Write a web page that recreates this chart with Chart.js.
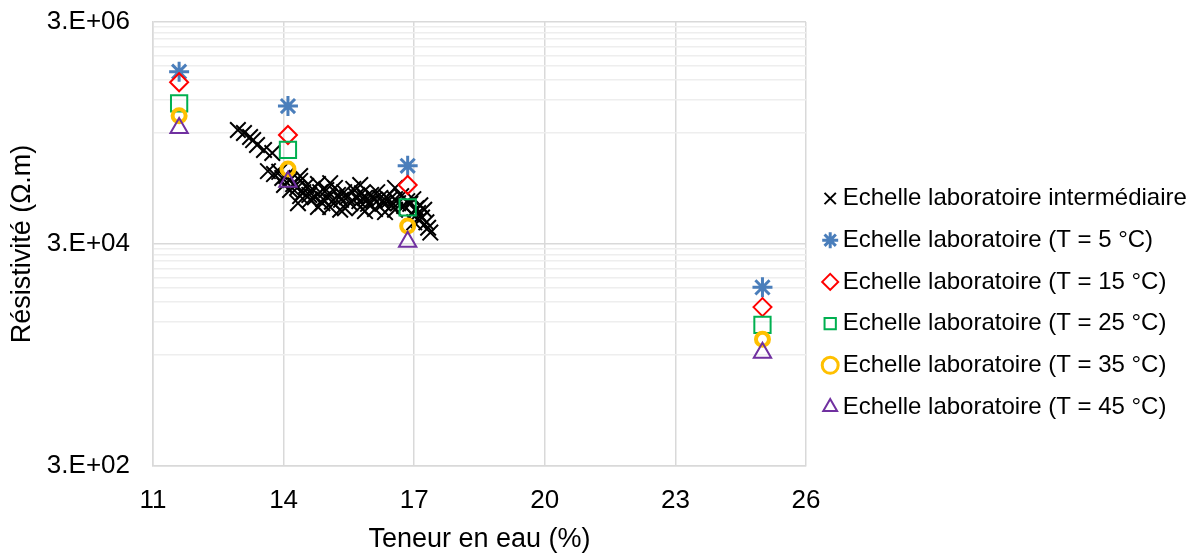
<!DOCTYPE html>
<html>
<head>
<meta charset="utf-8">
<script src="https://cdn.jsdelivr.net/npm/chart.js@4/dist/chart.umd.min.js"></script>
<style>
	html, body { margin: 0; padding: 0; background: #fff; }
	#chart { display: block; }
</style>
</head>
<body>
<canvas id="chart" width="1195" height="556"></canvas>
<script>
// Echelle laboratoire intermédiaire (teneur en eau %, résistivité ohm.m)
const interX = [
	12.95, 13.09, 13.23, 13.30, 13.39, 13.55, 13.74, 13.64, 13.78, 13.90,
	13.97, 14.06, 14.15, 14.01, 14.22, 14.31, 14.38, 14.45, 14.52, 14.59,
	14.66, 14.72, 14.79, 14.84, 14.91, 14.98, 15.05, 15.11, 15.18, 15.25,
	15.32, 15.39, 15.46, 15.53, 15.60, 15.67, 15.74, 15.80, 15.87, 15.94,
	16.01, 16.08, 16.15, 16.22, 16.29, 16.36, 16.43, 16.49, 16.56, 16.63,
	16.70, 16.77, 16.84, 16.91, 16.98, 17.05, 17.09, 17.14, 17.18, 17.23,
	17.28, 17.32, 17.37, 17.11, 15.07, 15.41, 15.76, 16.10, 16.56, 14.61,
	14.38, 14.15, 14.89, 14.33, 14.79, 15.30, 15.87, 16.33, 14.38, 15.07,
	15.76, 16.56, 16.95, 17.00,
];
const interY = [
	319000, 300000, 276000, 259000, 234000, 211000, 198000, 136000, 128000, 134000,
	118000, 123000, 113000, 102000, 104000, 96000, 111000, 88000, 100000, 83000,
	94000, 79000, 104000, 88000, 76000, 92000, 81000, 72000, 96000, 83000,
	75000, 88000, 79000, 70000, 94000, 81000, 73000, 86000, 78000, 69000,
	83000, 75000, 88000, 78000, 70000, 79000, 75000, 67000, 76000, 70000,
	81000, 66000, 73000, 69000, 76000, 63000, 57000, 67000, 52000, 61000,
	47000, 42000, 38000, 49000, 64500, 63000, 64500, 62000, 61000, 75000,
	81000, 92000, 70000, 70000, 64600, 61000, 59400, 58200, 123000, 106000,
	102000, 96000, 55800, 47000,
];

// Echelle laboratoire, une valeur par teneur en eau
const labX = [11.6, 14.1, 16.85, 25.0];
const labT5 = [1070000, 525000, 152000, 12200];
const labT15 = [860000, 288000, 102000, 8100];
const labT25 = [556000, 211000, 64000, 5600];
const labT35 = [430000, 142000, 43600, 4150];
const labT45 = [333000, 109000, 31500, 3150];

const seriesNames = [
	'Echelle laboratoire intermédiaire',
	'Echelle laboratoire (T = 5 °C)',
	'Echelle laboratoire (T = 15 °C)',
	'Echelle laboratoire (T = 25 °C)',
	'Echelle laboratoire (T = 35 °C)',
	'Echelle laboratoire (T = 45 °C)',
];

const xTicks = [11, 14, 17, 20, 23, 26];
const yMajorTicks = [300, 30000, 3000000];
const yMajorLabels = ['3.E+02', '3.E+04', '3.E+06'];
const yMinorTicks = [
	3000, 6000, 9000, 12000, 15000, 18000, 21000, 24000, 27000,
	300000, 600000, 900000, 1200000, 1500000, 1800000, 2100000, 2400000, 2700000,
];

const FONT = "'Liberation Sans', Arial, sans-serif";

function toPoints(xs, ys) {
	return xs.map((x, i) => ({ x, y: ys[i] }));
}

function labSet(label, values, style, color, radius, width, order) {
	return {
		label,
		data: toPoints(labX, values),
		pointStyle: style,
		borderColor: color,
		backgroundColor: 'rgba(0,0,0,0)',
		pointRadius: radius,
		pointHoverRadius: radius,
		borderWidth: width,
		order,
	};
}

const datasets = [
	{
		label: seriesNames[0],
		data: toPoints(interX, interY),
		pointStyle: 'crossRot',
		borderColor: '#000000',
		backgroundColor: '#000000',
		pointRadius: 11,
		pointHoverRadius: 11,
		borderWidth: 2,
		order: 6,
	},
	labSet(seriesNames[1], labT5, 'star', '#4a7ebb', 10, 3, 5),
	labSet(seriesNames[2], labT15, 'rectRot', '#ff0000', 9, 2, 4),
	labSet(seriesNames[3], labT25, 'rect', '#00b050', 11.5, 2, 3),
	labSet(seriesNames[4], labT35, 'circle', '#ffc000', 6.5, 4, 2),
	labSet(seriesNames[5], labT45, 'triangle', '#7030a0', 10, 2, 1),
];

// the legend sits right of the plot, fixed width so the plot ends at x=806
const legendPlace = {
	id: 'legendPlace',
	beforeUpdate(chart) {
		const lg = chart.legend;
		if (lg && !lg._fixed) {
			const fit = lg.fit;
			lg.fit = function () {
				fit.call(this);
				this.width = 389;
			};
			lg._fixed = true;
		}
	},
	afterLayout(chart) {
		// small nudge so markers line up with the original
		chart.legend.left += 6;
		chart.legend.right += 6;
	},
};

new Chart(document.getElementById('chart'), {
	type: 'scatter',
	data: { datasets },
	plugins: [legendPlace],
	options: {
		responsive: false,
		animation: false,
		layout: { padding: { top: 22, left: 0, right: 0, bottom: 0 } },
		scales: {
			x: {
				type: 'linear',
				min: 11,
				max: 26,
				afterBuildTicks: (scale) => {
					scale.ticks = xTicks.map((v) => ({ value: v }));
				},
				afterFit: (scale) => {
					scale.height = 90;
				},
				grid: { color: '#d9d9d9', lineWidth: 1.5, drawTicks: false },
				border: { color: '#d9d9d9', width: 1.5 },
				ticks: {
					color: '#000',
					font: { family: FONT, size: 26 },
					padding: 19,
					autoSkip: false,
					maxRotation: 0,
				},
				title: {
					display: true,
					text: 'Teneur en eau (%)',
					color: '#000',
					font: { family: FONT, size: 27 },
					padding: { top: 0, bottom: 0 },
				},
			},
			y: {
				type: 'logarithmic',
				min: 300,
				max: 3000000,
				afterBuildTicks: (scale) => {
					scale.ticks = yMajorTicks
						.concat(yMinorTicks)
						.sort((a, b) => a - b)
						.map((v) => ({ value: v }));
				},
				afterFit: (scale) => {
					scale.width = 153;
				},
				grid: {
					drawTicks: true,
					tickLength: 20,
					tickColor: 'rgba(0,0,0,0)',
					color: (ctx) => (yMajorTicks.includes(ctx.tick.value) ? '#d9d9d9' : '#eeeeee'),
					lineWidth: 1.5,
				},
				border: { color: '#d9d9d9', width: 1.5 },
				ticks: {
					color: '#000',
					font: { family: FONT, size: 26 },
					padding: 3,
					autoSkip: false,
					callback: (value) => {
						const i = yMajorTicks.indexOf(value);
						return i >= 0 ? yMajorLabels[i] : '';
					},
				},
				title: {
					display: true,
					text: 'Résistivité (Ω.m)',
					color: '#000',
					font: { family: FONT, size: 27 },
					padding: { top: 6, bottom: 0 },
				},
			},
		},
		plugins: {
			legend: {
				position: 'right',
				align: 'start',
				title: {
					display: true,
					text: '',
					font: { size: 10 },
					padding: { top: 134.8, bottom: 0 },
				},
				labels: {
					usePointStyle: true,
					boxHeight: 11.3,
					boxWidth: 1,
					padding: 17.7,
					color: '#000',
					font: { family: FONT, size: 24 },
					sort: (a, b) => a.datasetIndex - b.datasetIndex,
					generateLabels: (chart) => {
						const items = Chart.defaults.plugins.legend.labels.generateLabels(chart);
						items.forEach((item) => {
							if (item.pointStyle === 'circle') item.lineWidth = 3;
						});
						return items;
					},
				},
			},
			tooltip: { enabled: false },
		},
	},
});
</script>
</body>
</html>
